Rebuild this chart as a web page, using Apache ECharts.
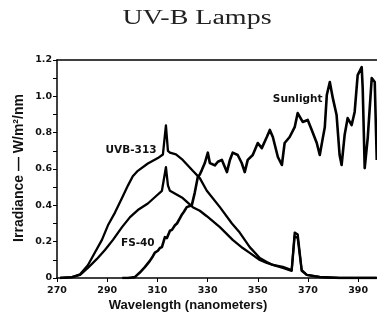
<!DOCTYPE html>
<html>
<head>
<meta charset="utf-8">
<script src="https://cdn.jsdelivr.net/npm/echarts@6/dist/echarts.min.js"></script>
<style>
  html, body { margin: 0; padding: 0; background: #fff; }
  #chart { width: 377px; height: 320px; }
</style>
</head>
<body>
<div id="chart"></div>
<script>
// Spectral irradiance of two UV-B lamps compared with sunlight
const xTicks = [270, 290, 310, 330, 350, 370, 390];
const yTicks = [0, 0.2, 0.4, 0.6, 0.8, 1.0, 1.2];

const uvbWave = [271.2, 276.0, 279.2, 282.3, 285.1, 287.9, 290.3, 293.1, 295.9, 298.3, 300.2, 302.2,
  306.2, 310.2, 312.2, 313.4, 314.2, 315.0, 317.4, 320.1, 324.1, 326.9, 329.7, 334.9, 339.7, 342.8,
  346.8, 350.8, 353.6, 356.0, 360.0, 363.5, 364.7, 365.9, 367.5, 369.5, 374.7, 382.6, 397.4];
const uvbIrr = [0, 0.005, 0.02, 0.07, 0.14, 0.21, 0.29, 0.36, 0.44, 0.51, 0.56, 0.59,
  0.63, 0.66, 0.68, 0.84, 0.70, 0.69, 0.68, 0.65, 0.59, 0.55, 0.48, 0.39, 0.30, 0.25,
  0.17, 0.11, 0.088, 0.072, 0.061, 0.044, 0.25, 0.24, 0.044, 0.017, 0.006, 0, 0];

const fsWave = [271.2, 276.0, 279.2, 282.3, 285.9, 289.1, 292.3, 295.9, 299.1, 302.2, 306.2, 309.4,
  311.8, 313.4, 314.2, 315.0, 320.1, 324.1, 326.9, 329.7, 334.9, 340.0, 344.0, 346.8, 350.8, 353.6,
  356.0, 360.0, 363.5, 364.7, 365.9, 367.5, 369.5, 374.7, 382.6, 397.4];
const fsIrr = [0, 0.005, 0.017, 0.055, 0.105, 0.154, 0.21, 0.28, 0.335, 0.374, 0.41, 0.45,
  0.48, 0.61, 0.51, 0.48, 0.44, 0.39, 0.37, 0.34, 0.28, 0.21, 0.165, 0.138, 0.099, 0.083,
  0.072, 0.055, 0.039, 0.23, 0.22, 0.039, 0.017, 0.005, 0, 0];

const sunWave = [296.0, 298.3, 301.0, 303.0, 305.0, 307.0, 308.2, 309.0, 310.2, 311.0, 311.8, 313.0,
  313.8, 315.0, 315.8, 317.0, 317.8, 319.0, 319.8, 320.5, 321.7, 322.9, 323.7, 324.9, 326.1, 326.9,
  327.7, 328.9, 330.1, 330.9, 332.9, 334.1, 335.7, 337.7, 338.9, 340.0, 342.0, 343.6, 344.8, 346.0,
  348.0, 350.0, 351.6, 353.6, 354.8, 356.0, 358.0, 359.6, 360.7, 362.7, 364.7, 365.9, 367.9, 369.9,
  371.5, 373.5, 374.7, 375.9, 376.7, 377.5, 378.7, 379.9, 381.4, 382.6, 383.4, 384.6, 385.8, 387.4,
  388.6, 389.8, 391.4, 391.8, 392.6, 393.8, 395.4, 396.6, 397.4];
const sunIrr = [0, 0, 0.005, 0.03, 0.06, 0.094, 0.12, 0.14, 0.15, 0.165, 0.17, 0.225,
  0.22, 0.26, 0.265, 0.29, 0.30, 0.33, 0.35, 0.363, 0.39, 0.396, 0.40, 0.47, 0.556, 0.57,
  0.594, 0.633, 0.69, 0.633, 0.62, 0.64, 0.65, 0.583, 0.65, 0.69, 0.677, 0.633, 0.583, 0.65,
  0.677, 0.743, 0.715, 0.776, 0.815, 0.776, 0.666, 0.622, 0.743, 0.776, 0.83, 0.908, 0.859, 0.87,
  0.815, 0.743, 0.677, 0.77, 0.83, 1.007, 1.079, 0.99, 0.897, 0.677, 0.622, 0.787, 0.88, 0.842,
  0.914, 1.117, 1.161, 1.046, 0.605, 0.77, 1.10, 1.079, 0.65];

// Curve names with the spot (wavelength, irradiance) each is written at
const curveNames = ['UVB-313', 'FS-40', 'Sunlight'];
const nameAt = [[299.5, 0.705], [302.2, 0.193], [365.9, 0.985]];

const zip = (xs, ys) => xs.map((x, i) => [x, ys[i]]);

const XMIN = 270, XMAX = 397.5;
const tickFont = { fontFamily: 'DejaVu Sans', fontWeight: 'bold', fontSize: 9.5, color: '#111' };

function curve(name, data, width, labelIdx) {
  return {
    name: name,
    type: 'line',
    data: data,
    symbol: 'none',
    lineStyle: { color: '#000', width: width, join: 'round' },
    clip: true,
    silent: true,
    markPoint: {
      symbol: 'circle',
      symbolSize: 0,
      silent: true,
      data: [{ name: curveNames[labelIdx], coord: nameAt[labelIdx] }],
      label: {
        show: true,
        position: 'inside',
        formatter: '{b}',
        fontFamily: 'DejaVu Sans',
        fontWeight: 'bold',
        fontSize: 10.5,
        color: '#111'
      }
    }
  };
}

const chart = echarts.init(document.getElementById('chart'), null, { renderer: 'canvas' });
chart.setOption({
  animation: false,
  backgroundColor: '#fff',
  grid: { left: 57, right: 0, top: 60, bottom: 42 },
  xAxis: [{
    type: 'value',
    min: XMIN,
    max: XMAX,
    interval: 20,
    axisLine: { show: true, lineStyle: { color: '#000', width: 1.5 } },
    axisTick: { show: true, length: 4, lineStyle: { color: '#000', width: 1 } },
    axisLabel: Object.assign({ margin: 8, showMaxLabel: false,
      formatter: v => (xTicks.indexOf(v) >= 0 ? String(v) : '') }, tickFont),
    splitLine: { show: false }
  }, {
    type: 'value',
    position: 'top',
    min: XMIN,
    max: XMAX,
    axisLine: { show: true, lineStyle: { color: '#000', width: 1.5 } },
    axisTick: { show: false },
    axisLabel: { show: false },
    splitLine: { show: false }
  }],
  yAxis: {
    type: 'value',
    min: 0,
    max: 1.2,
    interval: 0.2,
    axisLine: { show: true, lineStyle: { color: '#000', width: 1.5 } },
    axisTick: { show: true, length: 4, lineStyle: { color: '#000', width: 1 } },
    minorTick: { show: true, splitNumber: 2, length: 4, lineStyle: { color: '#000', width: 1 } },
    axisLabel: Object.assign({ margin: 5,
      formatter: v => {
        const t = yTicks.find(k => Math.abs(k - v) < 1e-6);
        if (t === undefined) return '';
        return t === 0 ? '0' : t.toFixed(1);
      } }, tickFont),
    splitLine: { show: false }
  },
  series: [
    curve('UVB-313', zip(uvbWave, uvbIrr), 2.3, 0),
    curve('FS-40', zip(fsWave, fsIrr), 2.3, 1),
    curve('Sunlight', zip(sunWave, sunIrr), 2.6, 2)
  ],
  graphic: [{
    type: 'text',
    x: 197,
    y: 19,
    scaleX: 1.4,
    style: {
      text: 'UV-B Lamps',
      font: '20px "Liberation Serif"',
      fill: '#222',
      align: 'center',
      verticalAlign: 'middle'
    }
  }, {
    type: 'text',
    x: 19,
    y: 168,
    rotation: Math.PI / 2,
    style: {
      text: 'Irradiance — W/m²/nm',
      font: 'bold 14px "Liberation Sans"',
      fill: '#111',
      align: 'center',
      verticalAlign: 'middle'
    }
  }, {
    type: 'text',
    x: 188,
    y: 305,
    style: {
      text: 'Wavelength (nanometers)',
      font: 'bold 13px "Liberation Sans"',
      fill: '#111',
      align: 'center',
      verticalAlign: 'middle'
    }
  }]
});
</script>
</body>
</html>
